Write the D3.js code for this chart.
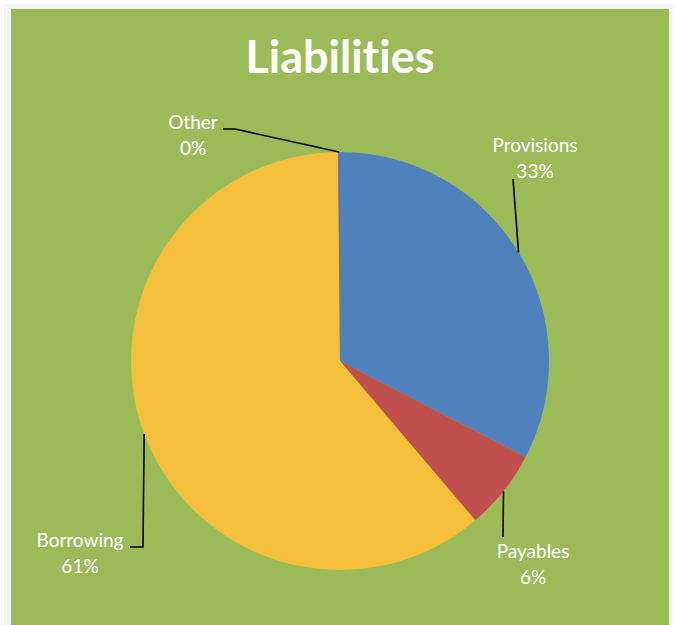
<!DOCTYPE html>
<html>
<head>
<meta charset="utf-8">
<title>Liabilities</title>
<style>
body { margin: 0; background: #ffffff; }
text { font-variant-ligatures: none; }
.label text { font-family: Lato, "Open Sans", sans-serif; font-size: 19px; fill: #ffffff; }
.leader { fill: none; stroke: #000000; stroke-width: 1.6; }
</style>
</head>
<body>
<script src="https://cdnjs.cloudflare.com/ajax/libs/d3/7.8.5/d3.min.js"></script>
<script>
var categories = ["Provisions", "Payables", "Borrowing", "Other"];
var shares = [32.6, 6.2, 61.05, 0.15];
var colors = ["#4F81BD", "#C0504D", "#F4BF3B", "#8064A2"];
var pctLabels = ["33%", "6%", "61%", "0%"];

var width = 676, height = 625;
var cx = 340, cy = 361, radius = 209;

// where each label sits, relative to the pie centre, and how its leader bends
var labelLayout = [
	{ tx: 195, ty: -209, knee: null, lineEnd: [173, -182] },
	{ tx: 193, ty: 197, knee: null, lineEnd: [163, 176] },
	{ tx: -260, ty: 186, knee: [-197, 186], lineEnd: [-210, 186] },
	{ tx: -147, ty: -232, knee: [-105, -232], lineEnd: [-117, -232] }
];

var svg = d3.select("body").append("svg")
	.attr("width", width)
	.attr("height", height);

// card with faint shadow
svg.append("rect")
	.attr("x", 4).attr("y", 4)
	.attr("width", 669).attr("height", 640)
	.attr("fill", "#f4f4f4");
svg.append("rect")
	.attr("x", 11).attr("y", 9)
	.attr("width", 658).attr("height", 640)
	.attr("fill", "#9BBB59");

svg.append("text")
	.attr("x", cx).attr("y", 73)
	.attr("text-anchor", "middle")
	.style("font-family", "Lato, 'Open Sans', sans-serif")
	.style("font-weight", "bold")
	.style("font-size", "45px")
	.style("fill", "#ffffff")
	.text("Liabilities");

var data = categories.map(function(c, i){
	return { name: c, value: shares[i], color: colors[i], pct: pctLabels[i], layout: labelLayout[i] };
});

var pie = d3.pie().sort(null).value(function(d){ return d.value; });
var arc = d3.arc().innerRadius(0).outerRadius(radius);
var rim = d3.arc().innerRadius(radius).outerRadius(radius);

var g = svg.append("g").attr("transform", "translate(" + cx + "," + cy + ")");
var arcs = pie(data);

g.selectAll("path.slice")
	.data(arcs)
	.enter()
	.append("path")
	.attr("class", "slice")
	.attr("d", arc)
	.attr("fill", function(d){ return d.data.color; });

g.selectAll("path.leader")
	.data(arcs)
	.enter()
	.append("path")
	.attr("class", "leader")
	.attr("d", function(d){
		var p = rim.centroid(d);
		var L = d.data.layout;
		var pts = [p];
		if (L.knee) pts.push(L.knee);
		pts.push(L.lineEnd);
		return d3.line()(pts);
	});

var lab = g.selectAll("g.label")
	.data(arcs)
	.enter()
	.append("g")
	.attr("class", "label")
	.attr("transform", function(d){ return "translate(" + d.data.layout.tx + "," + d.data.layout.ty + ")"; });
lab.append("text")
	.attr("text-anchor", "middle")
	.text(function(d){ return d.data.name; });
lab.append("text")
	.attr("text-anchor", "middle")
	.attr("y", 26)
	.text(function(d){ return d.data.pct; });
</script>
</body>
</html>
